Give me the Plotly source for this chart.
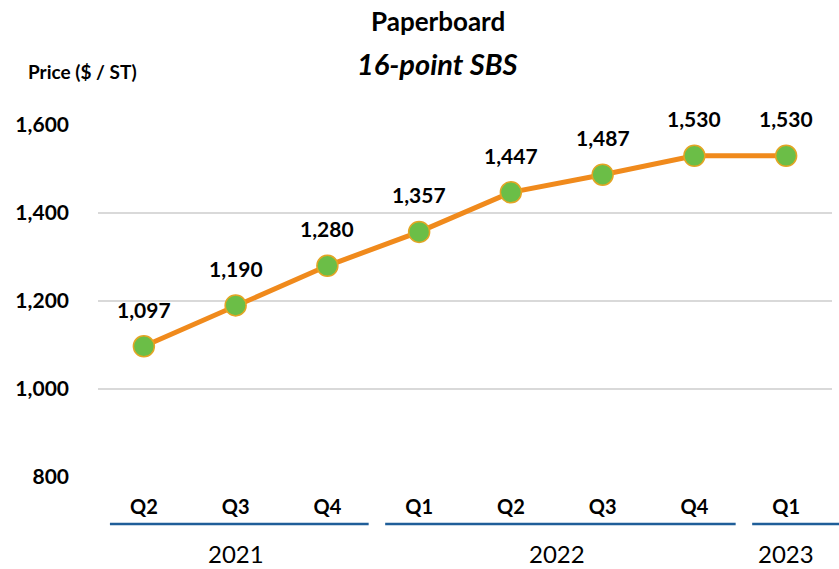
import plotly.graph_objects as go

# quarterly price data, 16-point SBS
quarters = ["Q2", "Q3", "Q4", "Q1", "Q2", "Q3", "Q4", "Q1"]
years = ["2021", "2021", "2021", "2022", "2022", "2022", "2022", "2023"]
prices = [1097, 1190, 1280, 1357, 1447, 1487, 1530, 1530]
y_ticks = [800, 1000, 1200, 1400, 1600]

FONT = "Lato"
idx = list(range(len(prices)))
n = len(prices)

# plot area in pixels
plot_top, plot_bottom, plot_left, plot_right = 125, 477, 98, 832


def py(pix):
    # pixel row -> paper y
    return (plot_bottom - pix) / (plot_bottom - plot_top)


def px(pix):
    # pixel column -> paper x
    return (pix - plot_left) / (plot_right - plot_left)


def cat_paper(pos):
    # category position -> paper x (x range is [-0.5, n-0.5])
    return (pos + 0.5) / n


fig = go.Figure()
fig.add_trace(go.Scatter(
    x=idx, y=prices, mode="lines+markers",
    line=dict(color="#F08A1C", width=5),
    marker=dict(size=21, color="#6BBE47", line=dict(color="#E3A524", width=1.5)),
    cliponaxis=False, showlegend=False,
))

# data labels above each point
for i, p in zip(idx, prices):
    fig.add_annotation(x=i, y=p, text="<b>{:,}</b>".format(p), showarrow=False,
                       yshift=37, font=dict(family=FONT, size=21, color="black"))

# year groups: underline + label
groups = {}
for i, yr in zip(idx, years):
    groups.setdefault(yr, []).append(i)
last_year = years[-1]
for yr, members in groups.items():
    x0 = cat_paper(members[0] - 0.37)
    x1 = cat_paper(members[-1] + 0.45) if yr != last_year else 1.02
    fig.add_shape(type="line", xref="paper", yref="paper", x0=x0, x1=x1,
                  y0=py(524), y1=py(524), line=dict(color="#1F5E99", width=2.5))
    fig.add_annotation(x=(members[0] + members[-1]) / 2, y=py(553), xref="x", yref="paper",
                       text=yr, showarrow=False, yanchor="middle",
                       font=dict(family=FONT, size=24, color="black"))

# titles
fig.add_annotation(x=px(438), y=py(21), xref="paper", yref="paper", text="<b>Paperboard</b>",
                   showarrow=False, yanchor="middle", font=dict(family=FONT, size=26, color="black"))
fig.add_annotation(x=px(437), y=py(63), xref="paper", yref="paper", text="<b><i>16-point SBS</i></b>",
                   showarrow=False, yanchor="middle", font=dict(family=FONT, size=29, color="black"))
fig.add_annotation(x=px(26), y=py(71), xref="paper", yref="paper", text="<b>Price ($ / ST)</b>",
                   showarrow=False, xanchor="left", yanchor="middle",
                   font=dict(family=FONT, size=19, color="black"))

fig.update_layout(
    width=839, height=569,
    margin=dict(l=plot_left, r=839 - plot_right, t=plot_top, b=569 - plot_bottom),
    plot_bgcolor="white", paper_bgcolor="white",
    font=dict(family=FONT, color="black"),
    xaxis=dict(tickmode="array", tickvals=idx, ticktext=["<b>%s</b>" % q for q in quarters],
               range=[-0.5, n - 0.5], showgrid=False, zeroline=False, showline=False,
               ticks="", ticklabelstandoff=16, tickfont=dict(family=FONT, size=20)),
    yaxis=dict(range=[800, 1600], tickvals=y_ticks, ticktext=["<b>{:,}</b>".format(v) for v in y_ticks],
               showgrid=True, gridcolor="#D9D9D9", gridwidth=1.5, zeroline=False, showline=False,
               ticks="", ticklabelstandoff=28, tickfont=dict(family=FONT, size=21)),
)

# drop the default page margin so the chart sits at the window's corner
fig.write_html("out.html", config={"displayModeBar": False},
               post_script="document.body.style.margin='0';")
